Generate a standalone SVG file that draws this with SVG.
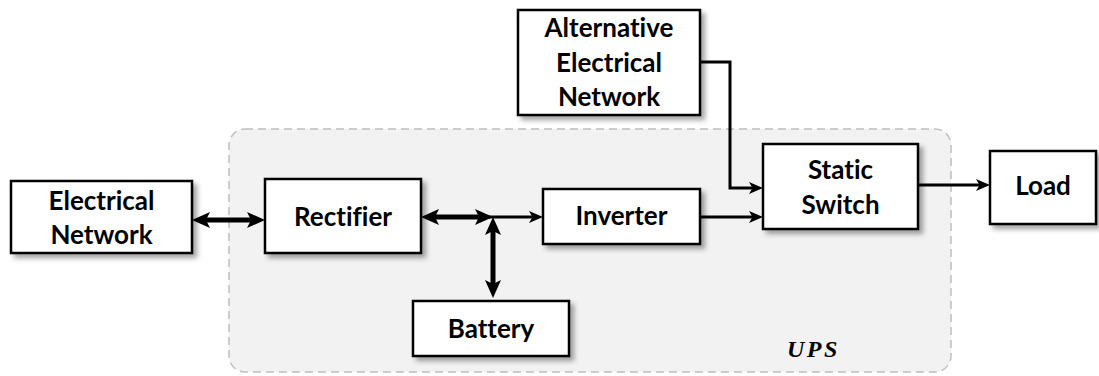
<svg xmlns="http://www.w3.org/2000/svg" width="1099" height="376" viewBox="0 0 1099 376">
<style>
.box{fill:#fff;stroke:#000;stroke-width:2.5;filter:url(#sh)}
.lbl{font-family:Lato,"Liberation Sans",sans-serif;font-weight:bold;font-size:26px;fill:#000;text-anchor:middle;font-variant-ligatures:none}
.thick{fill:none;stroke:#000;stroke-width:5}
.thin{fill:none;stroke:#000;stroke-width:3;stroke-linejoin:miter}
</style>
<defs>
<filter id="sh" x="-10%" y="-10%" width="130%" height="140%">
<feDropShadow dx="4" dy="4" stdDeviation="2.5" flood-color="#000" flood-opacity="0.35"/>
</filter>
<marker id="hb" markerUnits="userSpaceOnUse" markerWidth="18" markerHeight="16" viewBox="0 0 18 16" refX="8" refY="8" orient="auto-start-reverse">
<path d="M0,0 L18,8 L0,16 L4,8 Z" fill="#000"/>
</marker>
<marker id="hs" markerUnits="userSpaceOnUse" markerWidth="14" markerHeight="12" viewBox="0 0 14 12" refX="6" refY="6" orient="auto">
<path d="M0,0 L14,6 L0,12 L3.5,6 Z" fill="#000"/>
</marker>
</defs>

<g id="ups">
<rect x="229" y="129" width="722" height="243" rx="16" fill="#f2f2f2" stroke="#bfbfbf" stroke-width="1.5" stroke-dasharray="8,5"/>
<text x="787" y="357" font-family="'Liberation Serif','DejaVu Serif',serif" font-style="italic" font-weight="bold" font-size="24" letter-spacing="2.5" fill="#000">UPS</text>
</g>

<g id="connectors">
<line class="thick" x1="202" y1="220" x2="255" y2="220" marker-start="url(#hb)" marker-end="url(#hb)"/>
<line class="thick" x1="431" y1="217" x2="483" y2="217" marker-start="url(#hb)" marker-end="url(#hb)"/>
<line class="thin" x1="483" y1="217" x2="535" y2="217" marker-end="url(#hs)"/>
<line class="thick" x1="493" y1="227" x2="493" y2="288" marker-start="url(#hb)" marker-end="url(#hb)"/>
<line class="thin" x1="700" y1="217" x2="755" y2="217" marker-end="url(#hs)"/>
<path class="thin" d="M700,62 H730 V188 H755" marker-end="url(#hs)"/>
<line class="thin" x1="918" y1="185" x2="982" y2="185" marker-end="url(#hs)"/>
</g>

<g id="electrical-network">
<rect class="box" x="11" y="181" width="181" height="72"/>
<text class="lbl" x="101.5" y="210">Electrical</text>
<text class="lbl" x="101.5" y="244">Network</text>
</g>
<g id="rectifier">
<rect class="box" x="265" y="179" width="156" height="74"/>
<text class="lbl" x="343" y="226">Rectifier</text>
</g>
<g id="inverter">
<rect class="box" x="543" y="189" width="157" height="55"/>
<text class="lbl" x="621.5" y="225">Inverter</text>
</g>
<g id="battery">
<rect class="box" x="413" y="301" width="156" height="55"/>
<text class="lbl" x="491" y="338">Battery</text>
</g>
<g id="static-switch">
<rect class="box" x="763" y="144" width="155" height="85"/>
<text class="lbl" x="840.5" y="179">Static</text>
<text class="lbl" x="840.5" y="214">Switch</text>
</g>
<g id="alternative-network">
<rect class="box" x="518" y="10" width="182" height="105"/>
<text class="lbl" x="609" y="37">Alternative</text>
<text class="lbl" x="609" y="72">Electrical</text>
<text class="lbl" x="609" y="106">Network</text>
</g>
<g id="load">
<rect class="box" x="990" y="151" width="106" height="73"/>
<text class="lbl" x="1043" y="195">Load</text>
</g>
</svg>
